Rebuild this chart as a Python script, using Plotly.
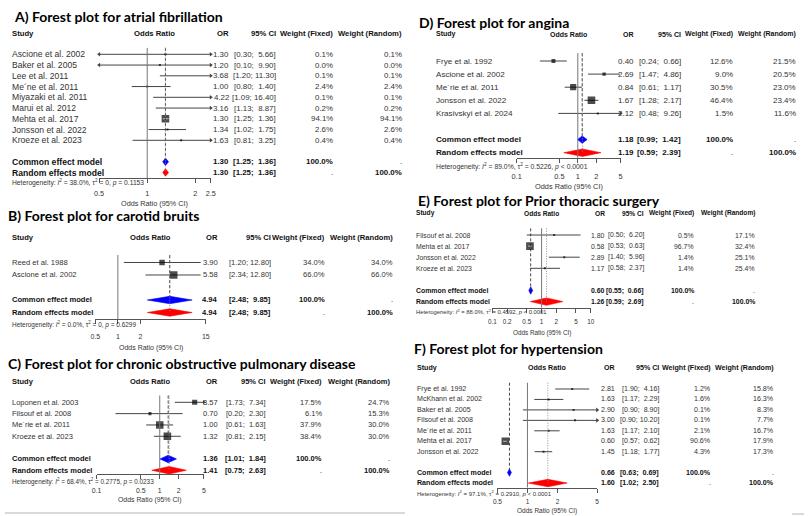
import math
import plotly.graph_objects as go

W, H = 809, 516

# ---------------- data ----------------
# A) atrial fibrillation
a_study = ["Ascione et al. 2002", "Baker et al. 2005", "Lee et al. 2011", "Me´ne et al. 2011",
           "Miyazaki et al. 2011", "Marui et al. 2012", "Mehta et al. 2017", "Jonsson et al. 2022",
           "Kroeze et al. 2023"]
a_or = [1.30, 1.20, 3.68, 1.00, 4.22, 3.16, 1.30, 1.34, 1.63]
a_lo = [0.30, 0.10, 1.20, 0.80, 1.09, 1.13, 1.25, 1.02, 0.81]
a_hi = [5.66, 9.90, 11.30, 1.40, 16.40, 8.87, 1.36, 1.75, 3.25]
a_wf = [0.1, 0.0, 0.1, 2.4, 0.1, 0.2, 94.1, 2.6, 0.4]
a_wr = [0.1, 0.0, 0.1, 2.4, 0.1, 0.2, 94.1, 2.6, 0.4]
a_common = [1.30, 1.25, 1.36]
a_random = [1.30, 1.25, 1.36]
a_het = ["38.0%", "0", "= 0.1153"]
a_ticks = [0.5, 1, 2, 2.5]

# B) carotid bruits
b_study = ["Reed et al. 1988", "Ascione et al. 2002"]
b_or = [3.90, 5.58]
b_lo = [1.20, 2.34]
b_hi = [12.80, 12.80]
b_wf = [34.0, 66.0]
b_wr = [34.0, 66.0]
b_common = [4.94, 2.48, 9.85]
b_random = [4.94, 2.48, 9.85]
b_het = ["0.0%", "0", "= 0.6299"]
b_ticks = [0.5, 1, 2, 15]

# C) chronic obstructive pulmonary disease
c_study = ["Loponen et al. 2003", "Filsouf et al. 2008", "Me´rie et al. 2011", "Kroeze et al. 2023"]
c_or = [3.57, 0.70, 1.00, 1.32]
c_lo = [1.73, 0.20, 0.61, 0.81]
c_hi = [7.34, 2.30, 1.63, 2.15]
c_wf = [17.5, 6.1, 37.9, 38.4]
c_wr = [24.7, 15.3, 30.0, 30.0]
c_common = [1.36, 1.01, 1.84]
c_random = [1.41, 0.75, 2.63]
c_het = ["68.4%", "0.2775", "= 0.0233"]
c_ticks = [0.1, 0.5, 1, 2, 5]

# D) angina
d_study = ["Frye et al. 1992", "Ascione et al. 2002", "Me´rie et al. 2011", "Jonsson et al. 2022",
           "Krasivskyi et al. 2024"]
d_or = [0.40, 2.69, 0.84, 1.67, 2.12]
d_lo = [0.24, 1.47, 0.61, 1.28, 0.48]
d_hi = [0.66, 4.86, 1.17, 2.17, 9.26]
d_wf = [12.6, 9.0, 30.5, 46.4, 1.5]
d_wr = [21.5, 20.5, 23.0, 23.4, 11.6]
d_common = [1.18, 0.99, 1.42]
d_random = [1.19, 0.59, 2.39]
d_het = ["89.0%", "0.5226", "< 0.0001"]
d_ticks = [0.1, 0.5, 1, 2, 5]

# E) prior thoracic surgery
e_study = ["Filsouf et al. 2008", "Mehta et al. 2017", "Jonsson et al. 2022", "Kroeze et al. 2023"]
e_or = [1.80, 0.58, 2.89, 1.17]
e_lo = [0.50, 0.53, 1.40, 0.58]
e_hi = [6.20, 0.63, 5.96, 2.37]
e_wf = [0.5, 96.7, 1.4, 1.4]
e_wr = [17.1, 32.4, 25.1, 25.4]
e_common = [0.60, 0.55, 0.66]
e_random = [1.26, 0.59, 2.69]
e_het = ["88.0%", "0.4592", "< 0.0001"]
e_ticks = [0.1, 0.2, 0.5, 1, 2, 5, 10]

# F) hypertension
f_study = ["Frye et al. 1992", "McKhann et al. 2002", "Baker et al. 2005", "Filsouf et al. 2008",
           "Me´rie et al. 2011", "Mehta et al. 2017", "Jonsson et al. 2022"]
f_or = [2.81, 1.63, 2.90, 3.00, 1.63, 0.60, 1.45]
f_lo = [1.90, 1.17, 0.90, 0.90, 1.17, 0.57, 1.18]
f_hi = [4.16, 2.29, 8.90, 10.20, 2.10, 0.62, 1.77]
f_wf = [1.2, 1.6, 0.1, 0.1, 2.1, 90.6, 4.3]
f_wr = [15.8, 16.3, 8.3, 7.7, 16.7, 17.9, 17.3]
f_common = [0.66, 0.63, 0.69]
f_random = [1.60, 1.02, 2.50]
f_het = ["97.1%", "0.2910", "< 0.0001"]
f_ticks = [0.5, 1, 2, 5]

titles = ["A) Forest plot for atrial fibrillation",
          "B) Forest plot for carotid bruits",
          "C) Forest plot for chronic obstructive pulmonary disease",
          "D) Forest plot for angina",
          "E) Forest plot for Prior thoracic surgery",
          "F) Forest plot for hypertension"]

panels = [
    dict(study=a_study, est=a_or, lo=a_lo, hi=a_hi, wf=a_wf, wr=a_wr, com=a_common, ran=a_random, het=a_het, ticks=a_ticks),
    dict(study=b_study, est=b_or, lo=b_lo, hi=b_hi, wf=b_wf, wr=b_wr, com=b_common, ran=b_random, het=b_het, ticks=b_ticks),
    dict(study=c_study, est=c_or, lo=c_lo, hi=c_hi, wf=c_wf, wr=c_wr, com=c_common, ran=c_random, het=c_het, ticks=c_ticks),
    dict(study=d_study, est=d_or, lo=d_lo, hi=d_hi, wf=d_wf, wr=d_wr, com=d_common, ran=d_random, het=d_het, ticks=d_ticks),
    dict(study=e_study, est=e_or, lo=e_lo, hi=e_hi, wf=e_wf, wr=e_wr, com=e_common, ran=e_random, het=e_het, ticks=e_ticks),
    dict(study=f_study, est=f_or, lo=f_lo, hi=f_hi, wf=f_wf, wr=f_wr, com=f_common, ran=f_random, het=f_het, ticks=f_ticks),
]

# ---------------- layout (pixel positions per panel) ----------------
LAY = [
    dict(tx=8, ty=16, hdr=33.3, sx=6, orr=228, cir=275, wfr=333, wrr=403, row0=54.3, rh=10.75,
         plo=95.3, phi=208.4, ax=178.3, het=183.0, tick=192.7, xt=203.3, fs=8.6, nfs=7.9, hfs=7.7),
    dict(tx=2, ty=215, hdr=237.7, sx=6, orr=216.7, cir=270, wfr=325, wrr=394, row0=262.5, rh=12.5,
         plo=91.5, phi=203.3, ax=319.3, het=324.0, tick=336.0, xt=347.5, fs=7.6, nfs=7.6, hfs=7.6),
    dict(tx=2, ty=363.3, hdr=381, sx=6, orr=216.7, cir=265, wfr=321.7, wrr=391, row0=402.3, rh=11.33,
         plo=92.7, phi=201.4, ax=474.3, het=481.7, tick=490.0, xt=500.0, fs=7.5, nfs=7.5, hfs=7.5),
    dict(tx=418.3, ty=22.7, hdr=34.3, sx=435, orr=637.7, cir=685, wfr=737.7, wrr=801.7, row0=61, rh=13.1,
         plo=518, phi=623.3, ax=158.3, het=166.0, tick=176.0, xt=186.7, fs=8.1, nfs=8.0, hfs=7.0),
    dict(tx=416.7, ty=200, hdr=213.3, sx=415, orr=609, cir=648.3, wfr=698.3, wrr=760, row0=235, rh=11.1,
         plo=493.5, phi=593.1, ax=307.7, het=311.7, tick=322.3, xt=333.3, fs=6.9, nfs=6.9, hfs=6.6),
    dict(tx=412.7, ty=348.3, hdr=368.3, sx=416, orr=619, cir=662.7, wfr=716, wrr=780, row0=389, rh=10.45,
         plo=498.6, phi=599.6, ax=487.7, het=493.3, tick=501.0, xt=510.8, fs=7.1, nfs=7.1, hfs=7.1),
]

FONT = "Liberation Sans"
TXT = "#333333"
LINE = "#444444"

fig = go.Figure()
annotations = []
shapes = []
layout_axes = {}


def px_x(v):
    return v / W


def px_y(v):
    return 1 - v / H


def fmt_ci(lo, hi):
    s_hi = f"{hi:.2f}"
    pad = "\u00a0" if len(s_hi) < 5 else ""
    return f"[{lo:.2f}; {pad}{s_hi}]"


for k, (P, L) in enumerate(zip(panels, LAY)):
    idx = k + 1
    xa = "x" if idx == 1 else f"x{idx}"
    ya = "y" if idx == 1 else f"y{idx}"
    fs = L["fs"]
    nfs = L["nfs"]
    hfs = L["hfs"]
    n = len(P["study"])
    rows = list(range(n))
    r_com = n + 1
    r_ran = n + 2
    lo_t, hi_t = P["ticks"][0], P["ticks"][-1]
    lg_lo, lg_hi = math.log10(lo_t), math.log10(hi_t)
    ppd = (L["phi"] - L["plo"]) / (lg_hi - lg_lo)
    y_top = L["hdr"] - 8
    yr = [(L["ax"] - L["row0"]) / L["rh"], (y_top - L["row0"]) / L["rh"]]
    tfs = nfs * 0.92

    layout_axes[f"xaxis{'' if idx == 1 else idx}"] = dict(
        domain=[px_x(L["plo"]), px_x(L["phi"])], range=[lg_lo, lg_hi], type="log",
        anchor=ya, showgrid=False, zeroline=False, showline=True, linecolor="#555", linewidth=1,
        ticks="outside", ticklen=4, tickcolor="#555", tickwidth=1,
        tickvals=P["ticks"], ticktext=[f"{t:g}" for t in P["ticks"]],
        tickfont=dict(family=FONT, size=tfs, color=TXT),
        ticklabelstandoff=int(round(max(0, L["tick"] - L["ax"] - 4 - tfs * 0.5 - 3))),
        fixedrange=True)
    layout_axes[f"yaxis{'' if idx == 1 else idx}"] = dict(
        domain=[px_y(L["ax"]), px_y(y_top)], range=yr, visible=False, anchor=xa, fixedrange=True)

    # reference lines
    shapes.append(dict(type="line", xref=xa, yref=ya, x0=1, x1=1, y0=-0.6, y1=yr[0],
                       line=dict(color="#777", width=1)))
    shapes.append(dict(type="line", xref=xa, yref=ya, x0=P["com"][0], x1=P["com"][0], y0=-0.6, y1=r_com,
                       line=dict(color="#333", width=0.9, dash="3px,2px")))
    shapes.append(dict(type="line", xref=xa, yref=ya, x0=P["ran"][0], x1=P["ran"][0], y0=-0.6, y1=r_ran,
                       line=dict(color="#888", width=0.9, dash="1px,1.5px")))

    # CI lines
    cx, cy = [], []
    for r, lo, hi in zip(rows, P["lo"], P["hi"]):
        cx += [lo, hi, None]
        cy += [r, r, None]
    fig.add_trace(go.Scatter(x=cx, y=cy, mode="lines", line=dict(color=LINE, width=1),
                             xaxis=xa, yaxis=ya, hoverinfo="skip", showlegend=False))
    # arrows where CI exceeds the axis
    ar_r = [r for r, hi in zip(rows, P["hi"]) if hi > hi_t]
    ar_l = [r for r, lo in zip(rows, P["lo"]) if lo < lo_t]
    if ar_r:
        fig.add_trace(go.Scatter(x=[hi_t] * len(ar_r), y=ar_r, mode="markers", cliponaxis=False,
                                 marker=dict(symbol="triangle-right", size=4, color=LINE),
                                 xaxis=xa, yaxis=ya, hoverinfo="skip", showlegend=False))
    if ar_l:
        fig.add_trace(go.Scatter(x=[lo_t] * len(ar_l), y=ar_l, mode="markers", cliponaxis=False,
                                 marker=dict(symbol="triangle-left", size=4, color=LINE),
                                 xaxis=xa, yaxis=ya, hoverinfo="skip", showlegend=False))
    # boxes
    wmax = max(P["wf"])
    sizes = [max(2.0, 7.6 * math.sqrt(w / wmax)) for w in P["wf"]]
    fig.add_trace(go.Scatter(x=P["est"], y=rows, mode="markers",
                             marker=dict(symbol="square", size=sizes, color="black", line=dict(width=0)),
                             xaxis=xa, yaxis=ya, hoverinfo="skip", showlegend=False))
    # white CI inside large boxes
    wx, wy = [], []
    for r, lo, hi, s in zip(rows, P["lo"], P["hi"], sizes):
        if (math.log10(hi) - math.log10(lo)) * ppd < s - 1:
            wx += [lo, hi, None]
            wy += [r, r, None]
    if wx:
        fig.add_trace(go.Scatter(x=wx, y=wy, mode="lines", line=dict(color="white", width=0.8),
                                 xaxis=xa, yaxis=ya, hoverinfo="skip", showlegend=False))
    # diamonds
    hh = 3.7 / L["rh"]
    for (est, lo, hi), r, col in [(P["com"], r_com, "#0000ff"), (P["ran"], r_ran, "#ff0000")]:
        fig.add_trace(go.Scatter(x=[lo, est, hi, est, lo], y=[r, r - hh, r, r + hh, r], mode="lines",
                                 fill="toself", fillcolor=col, line=dict(color=col, width=0.6),
                                 xaxis=xa, yaxis=ya, hoverinfo="skip", showlegend=False))

    # ---- texts ----
    def add(text, x, y, anchor="left", size=fs, bold=False, color=TXT, xref="paper", yref=ya):
        annotations.append(dict(text=f"<b>{text}</b>" if bold else text, x=x, y=y, xref=xref, yref=yref,
                                xanchor=anchor, yanchor="middle", showarrow=False, borderpad=0,
                                font=dict(family=FONT, size=size, color=color)))

    hrow = (L["hdr"] - L["row0"]) / L["rh"]
    add("Study", px_x(L["sx"]), hrow, size=hfs, bold=True, color="#111")
    add("Odds Ratio", 0.5, hrow, anchor="center", size=hfs, bold=True, color="#111", xref=f"{xa} domain")
    add("OR", px_x(L["orr"]), hrow, anchor="right", size=hfs, bold=True, color="#111")
    add("95% CI", px_x(L["cir"]), hrow, anchor="right", size=hfs, bold=True, color="#111")
    add("Weight (Fixed)", px_x(L["wfr"]), hrow, anchor="right", size=hfs, bold=True, color="#111")
    add("Weight (Random)", px_x(L["wrr"]), hrow, anchor="right", size=hfs, bold=True, color="#111")

    for r, s, e, lo, hi, wf, wr in zip(rows, P["study"], P["est"], P["lo"], P["hi"], P["wf"], P["wr"]):
        add(s, px_x(L["sx"]), r)
        add(f"{e:.2f}", px_x(L["orr"]), r, anchor="right", size=nfs)
        add(fmt_ci(lo, hi), px_x(L["cir"]), r, anchor="right", size=nfs)
        add(f"{wf:.1f}%", px_x(L["wfr"]), r, anchor="right", size=nfs)
        add(f"{wr:.1f}%", px_x(L["wrr"]), r, anchor="right", size=nfs)

    for label, (est, lo, hi), r, wf, wr in [("Common effect model", P["com"], r_com, "100.0%", "."),
                                            ("Random effects model", P["ran"], r_ran, ".", "100.0%")]:
        add(label, px_x(L["sx"]), r, bold=True, color="#111")
        add(f"{est:.2f}", px_x(L["orr"]), r, anchor="right", size=nfs, bold=True, color="#111")
        add(fmt_ci(lo, hi), px_x(L["cir"]), r, anchor="right", size=nfs, bold=True, color="#111")
        add(wf, px_x(L["wfr"]), r, anchor="right", size=nfs, bold=(wf != "."), color="#111")
        add(wr, px_x(L["wrr"]), r, anchor="right", size=nfs, bold=(wr != "."), color="#111")

    i2, tau2, pv = P["het"]
    het_txt = f"Heterogeneity: <i>I</i><sup>2</sup> = {i2}, τ<sup>2</sup> = {tau2}, <i>p</i> {pv}"
    add(het_txt, px_x(L["sx"]), px_y(L["het"]), size=nfs * 0.85, yref="paper")
    add("Odds Ratio (95% CI)", 0.5, px_y(L["xt"]), anchor="center", size=nfs * 0.92,
        xref=f"{xa} domain", yref="paper")

    annotations.append(dict(text=titles[k], x=px_x(L["tx"]), y=px_y(L["ty"]), xref="paper", yref="paper",
                            xanchor="left", yanchor="middle", showarrow=False, borderpad=0,
                            font=dict(family="Lato", size=14, color="black", weight=700)))

# bottom separator lines
shapes.append(dict(type="line", xref="paper", yref="paper", x0=0, x1=px_x(405), y0=px_y(513), y1=px_y(513),
                   line=dict(color="#cccccc", width=1.5)))
shapes.append(dict(type="line", xref="paper", yref="paper", x0=px_x(797), x1=px_x(809), y0=px_y(514), y1=px_y(514),
                   line=dict(color="#cccccc", width=1.5)))

fig.update_layout(width=W, height=H, margin=dict(l=0, r=0, t=0, b=0), paper_bgcolor="white",
                  plot_bgcolor="rgba(0,0,0,0)", showlegend=False, annotations=annotations, shapes=shapes,
                  **layout_axes)

fig.write_html("out.html", config={"displayModeBar": False},
               post_script="document.body.style.margin='0px';document.body.style.padding='0px';"
                           "document.body.style.overflow='hidden';")
